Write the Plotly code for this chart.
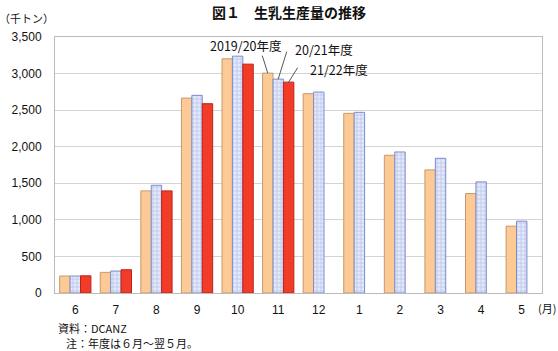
import plotly.graph_objects as go

months = ["6", "7", "8", "9", "10", "11", "12", "1", "2", "3", "4", "5"]
y2019 = [232, 282, 1396, 2665, 3202, 3006, 2725, 2456, 1883, 1683, 1360, 914]
y2020 = [232, 300, 1473, 2702, 3238, 2924, 2747, 2470, 1928, 1842, 1519, 982]
y2021 = [235, 318, 1396, 2588, 3129, 2883, None, None, None, None, None, None]
series_names = ["2019/20年度", "20/21年度", "21/22年度"]
yticks = [0, 500, 1000, 1500, 2000, 2500, 3000, 3500]
ytick_text = ["0", "500", "1,000", "1,500", "2,000", "2,500", "3,000", "3,500"]

JP = "Noto Sans CJK JP"
NUM = "Liberation Sans, Arial, sans-serif"
BARGAP = 0.23

fig = go.Figure()
fig.add_trace(go.Bar(
    x=months, y=y2019, name=series_names[0],
    marker=dict(color="#FDCA96", line=dict(color="#C49A6C", width=1)),
))
fig.add_trace(go.Bar(
    x=months, y=y2020, name=series_names[1],
    marker=dict(color="#E4E9FA", line=dict(color="#7E8CC8", width=1),
                pattern=dict(shape="+", fillmode="overlay", fgcolor="#8F9EDC",
                             bgcolor="#E4E9FA", size=4, solidity=0.35)),
))
fig.add_trace(go.Bar(
    x=months, y=y2021, name=series_names[2],
    marker=dict(color="#F23C28", line=dict(color="#B8241A", width=1)),
))

w = (1 - BARGAP) / 3
idx = months.index("11")
heads = [(idx - w, y2019[idx]), (idx, y2020[idx]), (idx + w, y2021[idx])]
tails = [(-6, -19), (9, -29), (10, -16)]
txt_shift = [(-22, 28), (46, 30), (50, 13)]

ann = []
for (hx, hy), (ax, ay), (xs, ys), name in zip(heads, tails, txt_shift, series_names):
    ann.append(dict(x=hx, y=hy, xref="x", yref="y", text="", showarrow=True,
                    ax=ax, ay=ay, arrowhead=0, arrowwidth=0.9, arrowcolor="#444"))
    ann.append(dict(x=hx, y=hy, xref="x", yref="y", text=name, showarrow=False,
                    xanchor="center", yanchor="middle", borderpad=0,
                    xshift=xs, yshift=ys, font=dict(family=JP, size=12.5, color="#111")))

# (px from left, px from top) placed texts
L, R, T, B = 51, 16, 37, 58
pw, ph = 558 - L - R, 351 - T - B
placed = [
    (287, 12, "<b>図１　生乳生産量の推移</b>", "center", 14),
    (22, 18, "（千トン）", "center", 11),
    (557, 308, "(月)", "right", 11),
    (53, 328, "資料：DCANZ", "left", 11),
    (61, 343, "注：年度は６月～翌５月。", "left", 11),
]
for px, py, t, xa, fs in placed:
    ann.append(dict(x=(px - L) / pw, y=(351 - py - B) / ph, xref="paper", yref="paper",
                    text=t, showarrow=False, xanchor=xa, yanchor="middle", borderpad=0,
                    font=dict(family=JP, size=fs, color="#111")))

fig.update_layout(
    width=558, height=351,
    margin=dict(l=L, r=R, t=T, b=B),
    paper_bgcolor="white", plot_bgcolor="white",
    barmode="group", bargap=BARGAP, bargroupgap=0,
    showlegend=False,
    annotations=ann,
    font=dict(family=NUM, size=12, color="#111"),
)
fig.update_xaxes(type="category", showline=True, linecolor="#BBBBBB", linewidth=1,
                 mirror=True, showgrid=False, ticks="", ticklabelstandoff=6,
                 tickfont=dict(family=NUM, size=12, color="#111"))
fig.update_yaxes(range=[0, 3500], tickvals=yticks, ticktext=ytick_text,
                 showline=True, linecolor="#BBBBBB", linewidth=1, mirror=True,
                 showgrid=True, gridcolor="#D4D4D4", gridwidth=1, zeroline=False,
                 ticks="", ticklabelstandoff=10,
                 tickfont=dict(family=NUM, size=12, color="#111"))

fig.write_html("out.html")
